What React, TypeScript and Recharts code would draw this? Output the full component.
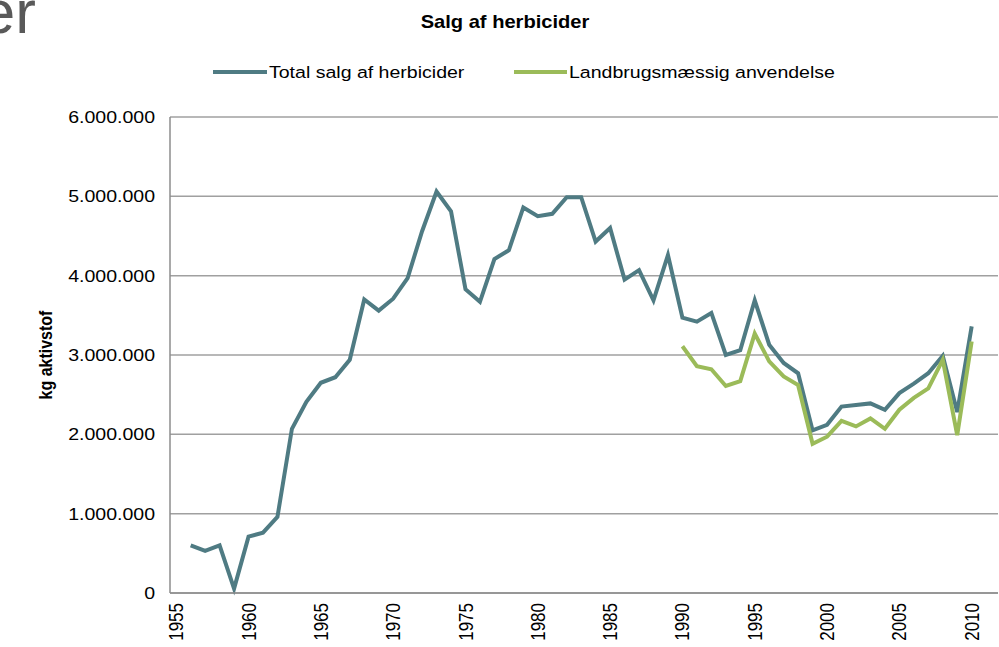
import { LineChart, Line, XAxis, YAxis, CartesianGrid } from 'recharts'

// sales of herbicides, kg active substance
const YEARS = [
  1956, 1957, 1958, 1959, 1960, 1961, 1962, 1963, 1964, 1965,
  1966, 1967, 1968, 1969, 1970, 1971, 1972, 1973, 1974, 1975,
  1976, 1977, 1978, 1979, 1980, 1981, 1982, 1983, 1984, 1985,
  1986, 1987, 1988, 1989, 1990, 1991, 1992, 1993, 1994, 1995,
  1996, 1997, 1998, 1999, 2000, 2001, 2002, 2003, 2004, 2005,
  2006, 2007, 2008, 2009, 2010,
]

const TOTAL = [
  600000, 530000, 600000, 55000, 710000, 760000, 960000, 2070000, 2410000, 2650000,
  2720000, 2940000, 3700000, 3560000, 3710000, 3970000, 4560000, 5060000, 4810000, 3830000,
  3670000, 4210000, 4320000, 4860000, 4750000, 4780000, 4990000, 4990000, 4430000, 4600000,
  3950000, 4070000, 3690000, 4260000, 3470000, 3420000, 3530000, 3000000, 3060000, 3690000,
  3130000, 2900000, 2770000, 2050000, 2120000, 2350000, 2370000, 2390000, 2310000, 2520000,
  2640000, 2770000, 2990000, 2280000, 3360000,
]

const AGRI_YEARS = [
  1990, 1991, 1992, 1993, 1994, 1995, 1996, 1997, 1998, 1999,
  2000, 2001, 2002, 2003, 2004, 2005, 2006, 2007, 2008, 2009, 2010,
]
const AGRI = [
  3110000, 2860000, 2820000, 2610000, 2670000, 3270000, 2920000, 2730000, 2620000, 1880000,
  1970000, 2170000, 2100000, 2200000, 2070000, 2310000, 2460000, 2580000, 2940000, 1990000, 3170000,
]

const X_TICKS = [1955, 1960, 1965, 1970, 1975, 1980, 1985, 1990, 1995, 2000, 2005, 2010]
const Y_TICKS = [0, 1000000, 2000000, 3000000, 4000000, 5000000, 6000000]

const TITLE = 'Salg af herbicider'
const Y_LABEL = 'kg aktivstof'
const NAME_TOTAL = 'Total salg af herbicider'
const NAME_AGRI = 'Landbrugsmæssig anvendelse'

const TEAL = '#4f7b83'
const GREEN = '#9bbb59'
const FONT = "'Liberation Sans', Arial, sans-serif"
const STRETCH = 1.15

const data = YEARS.map((y, i) => {
  const j = AGRI_YEARS.indexOf(y)
  return { year: y, total: TOTAL[i], agri: j >= 0 ? AGRI[j] : undefined }
})

const fmt = (v: number) => String(v).replace(/\B(?=(\d{3})+(?!\d))/g, '.')

function YTick({ x, y, payload }: any) {
  return (
    <g transform={`translate(${x},${y}) scale(${STRETCH},1)`}>
      <text x={0} y={0} dy="0.35em" textAnchor="end" fontSize={17} fontFamily={FONT} fill="#000">
        {fmt(payload.value)}
      </text>
    </g>
  )
}

function XTick({ x, y, payload }: any) {
  return (
    <g transform={`translate(${x},${y}) scale(${STRETCH},1) rotate(-90)`}>
      <text x={0} y={0} dy="0.36em" textAnchor="end" fontSize={17} fontFamily={FONT} fill="#000">
        {payload.value}
      </text>
    </g>
  )
}

function Overlay() {
  return (
    <svg width={999} height={647} style={{ position: 'absolute', left: 0, top: 0, pointerEvents: 'none' }}>
      <text x={36} y={33} textAnchor="end" fontSize={62} fontFamily={FONT} fill="#595959">er</text>
      <g transform={`translate(505,28) scale(${STRETCH},1)`}>
        <text textAnchor="middle" fontSize={17.5} fontWeight="bold" fontFamily={FONT} fill="#000">{TITLE}</text>
      </g>
      <line x1={213} x2={267} y1={72} y2={72} stroke={TEAL} strokeWidth={4} />
      <g transform={`translate(269,72) scale(${STRETCH},1)`}>
        <text dy="0.35em" fontSize={17} fontFamily={FONT} fill="#000">{NAME_TOTAL}</text>
      </g>
      <line x1={514} x2={567} y1={72} y2={72} stroke={GREEN} strokeWidth={4} />
      <g transform={`translate(569,72) scale(${STRETCH},1)`}>
        <text dy="0.35em" fontSize={17} fontFamily={FONT} fill="#000">{NAME_AGRI}</text>
      </g>
      <g transform={`translate(46,355) scale(${STRETCH},1) rotate(-90)`}>
        <text dy="0.35em" textAnchor="middle" fontSize={16} fontWeight="bold" fontFamily={FONT} fill="#000">{Y_LABEL}</text>
      </g>
    </svg>
  )
}

export default function App() {
  return (
    <div style={{ position: 'absolute', left: 0, top: 0, width: 999, height: 647, background: '#fff' }}>
      <LineChart width={999} height={647} data={data} margin={{ top: 117, right: 1, bottom: 0, left: 0 }}>
        <CartesianGrid horizontal vertical={false} stroke="#a0a0a0" strokeWidth={1.5} />
        <XAxis
          dataKey="year"
          type="number"
          domain={[1954.57, 2011.82]}
          ticks={X_TICKS}
          interval={0}
          allowDataOverflow
          height={54}
          tickLine={false}
          tickSize={0}
          tickMargin={10}
          axisLine={{ stroke: '#8c8c8c', strokeWidth: 1.5 }}
          tick={<XTick />}
        />
        <YAxis
          domain={[0, 6000000]}
          ticks={Y_TICKS}
          interval={0}
          width={170}
          tickLine={false}
          tickSize={0}
          tickMargin={15}
          axisLine={{ stroke: '#8c8c8c', strokeWidth: 1.5 }}
          tick={<YTick />}
        />
        <Line dataKey="total" name={NAME_TOTAL} stroke={TEAL} strokeWidth={4} dot={false} isAnimationActive={false} />
        <Line dataKey="agri" name={NAME_AGRI} stroke={GREEN} strokeWidth={4} dot={false} isAnimationActive={false} />
      </LineChart>
      <Overlay />
    </div>
  )
}
